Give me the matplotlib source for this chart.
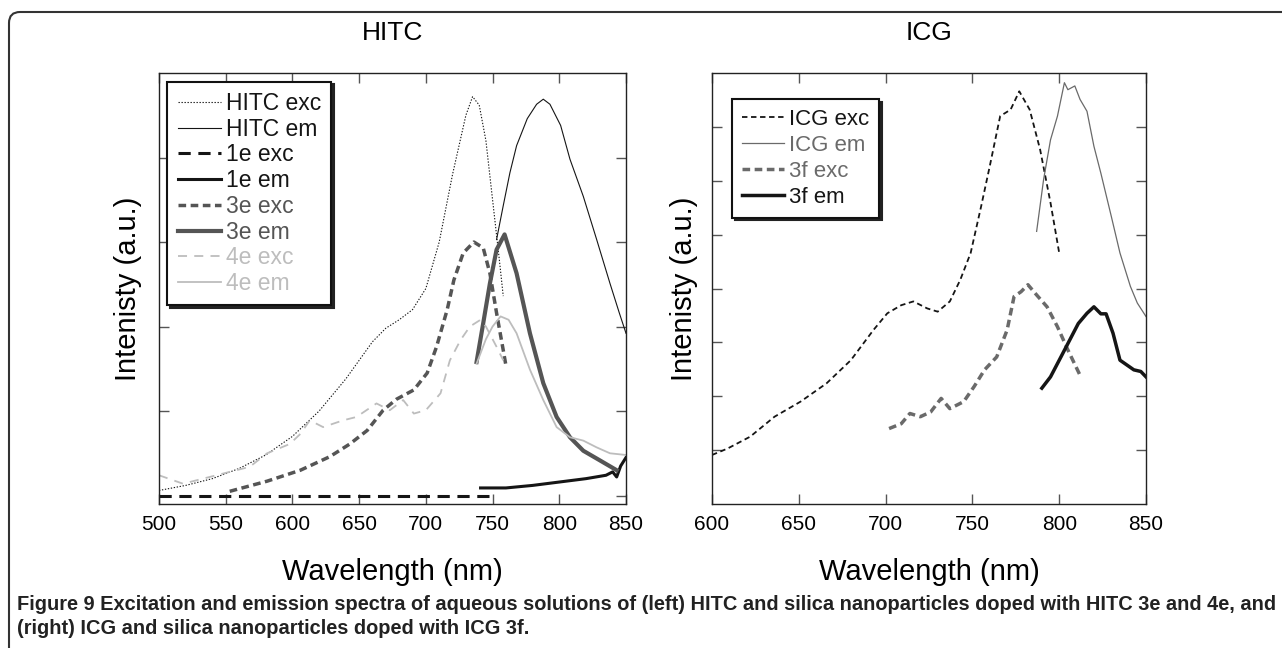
import matplotlib
matplotlib.use("Agg")
import matplotlib.pyplot as plt
from matplotlib.patches import FancyBboxPatch
from matplotlib.transforms import IdentityTransform

plt.rcParams['font.family'] = ['Liberation Sans', 'DejaVu Sans']

# ---- left panel (HITC) ----
hitc_exc_x = [500, 520, 540, 560, 580, 600, 620, 640, 660, 670, 680, 690, 700, 710, 720, 730, 735, 740, 745, 750, 755, 758]
hitc_exc_y = [0.06, 0.12, 0.2, 0.32, 0.48, 0.7, 1.0, 1.38, 1.82, 1.98, 2.08, 2.2, 2.45, 3.0, 3.8, 4.5, 4.72, 4.62, 4.2, 3.5, 2.8, 2.36]

hitc_em_x = [753, 758, 763, 768, 776, 783, 788, 793, 801, 808, 818, 828, 838, 845, 850]
hitc_em_y = [3.03, 3.43, 3.82, 4.14, 4.46, 4.63, 4.69, 4.63, 4.38, 3.98, 3.54, 3.03, 2.51, 2.16, 1.92]

e1_exc_x = [500, 750]
e1_exc_y = [0.0, 0.0]

e1_em_x = [741, 760, 780, 800, 820, 835, 840, 843, 846, 850]
e1_em_y = [0.09, 0.09, 0.12, 0.16, 0.2, 0.24, 0.28, 0.22, 0.35, 0.45]

e3_exc_x = [553, 581, 606, 628, 643, 656, 668, 678, 691, 701, 708, 716, 721, 728, 736, 743, 748, 753, 758, 760]
e3_exc_y = [0.05, 0.17, 0.3, 0.46, 0.61, 0.77, 1.01, 1.14, 1.25, 1.45, 1.76, 2.2, 2.55, 2.87, 3.0, 2.93, 2.63, 2.16, 1.72, 1.54]

e3_em_x = [738, 743, 748, 753, 759, 768, 778, 788, 798, 808, 818, 830, 843]
e3_em_y = [1.58, 2.04, 2.51, 2.91, 3.09, 2.63, 1.92, 1.33, 0.93, 0.69, 0.53, 0.42, 0.3]

e4_exc_x = [500, 518, 543, 568, 581, 598, 606, 613, 623, 638, 648, 663, 673, 683, 691, 700, 711, 718, 726, 733, 741, 745, 753, 758]
e4_exc_y = [0.24, 0.14, 0.24, 0.34, 0.5, 0.61, 0.73, 0.89, 0.81, 0.89, 0.93, 1.09, 1.01, 1.13, 0.97, 1.01, 1.21, 1.6, 1.84, 2.0, 2.08, 2.0, 1.76, 1.6]

e4_em_x = [738, 745, 750, 756, 762, 768, 778, 788, 798, 808, 818, 828, 838, 850]
e4_em_y = [1.56, 1.85, 2.0, 2.12, 2.08, 1.92, 1.49, 1.13, 0.81, 0.69, 0.65, 0.57, 0.5, 0.48]

# ---- right panel (ICG) ----
icg_exc_x = [600, 609, 622, 636, 651, 666, 680, 693, 701, 709, 716, 724, 730, 737, 743, 749, 755, 760, 766, 772, 777, 783, 789, 795, 800]
icg_exc_y = [0.91, 1.03, 1.25, 1.62, 1.9, 2.24, 2.67, 3.23, 3.54, 3.69, 3.76, 3.63, 3.57, 3.76, 4.16, 4.66, 5.52, 6.27, 7.2, 7.32, 7.66, 7.32, 6.58, 5.59, 4.66]

icg_em_x = [787, 791, 795, 799, 803, 805, 809, 812, 816, 820, 824, 830, 835, 841, 845, 850]
icg_em_y = [5.06, 6.02, 6.76, 7.2, 7.82, 7.69, 7.76, 7.51, 7.29, 6.64, 6.14, 5.34, 4.66, 4.04, 3.73, 3.48]

f3_exc_x = [702, 709, 714, 720, 726, 732, 737, 745, 751, 757, 764, 770, 774, 778, 782, 787, 793, 799, 805, 812]
f3_exc_y = [1.4, 1.49, 1.68, 1.62, 1.71, 1.96, 1.77, 1.9, 2.18, 2.49, 2.73, 3.23, 3.85, 3.94, 4.07, 3.88, 3.66, 3.29, 2.86, 2.39]

f3_em_x = [790, 795, 801, 806, 811, 816, 820, 824, 827, 831, 835, 839, 843, 847, 850]
f3_em_y = [2.15, 2.36, 2.73, 3.04, 3.35, 3.54, 3.66, 3.53, 3.53, 3.17, 2.67, 2.58, 2.49, 2.46, 2.36]

caption_1 = "Figure 9 Excitation and emission spectra of aqueous solutions of (left) HITC and silica nanoparticles doped with HITC 3e and 4e, and"
caption_2 = "(right) ICG and silica nanoparticles doped with ICG 3f."

BLACK = '#151515'
DARK = '#555555'
LIGHT = '#bdbdbd'
MID = '#6a6a6a'


def style_axes(ax):
    ax.tick_params(direction='in', top=True, right=True, length=7, width=1,
                   color='#555555', labelsize=15, labelleft=False, pad=8)
    for sp in ax.spines.values():
        sp.set_linewidth(1.0)
        sp.set_color('#222222')


def add_legend(ax, anchor, colors, size, spacing):
    leg = ax.legend(loc='upper left', bbox_to_anchor=anchor, fontsize=size,
                    frameon=True, fancybox=False, shadow={'color': '#222222', 'alpha': 1},
                    handlelength=1.9, handletextpad=0.2, labelspacing=spacing,
                    borderpad=0.45, borderaxespad=0)
    leg.get_frame().set_edgecolor('#111111')
    leg.get_frame().set_linewidth(1.5)
    for txt, c in zip(leg.get_texts(), colors):
        txt.set_color(c)
    return leg


fig = plt.figure(figsize=(12.82, 6.48), dpi=100)

# left panel
ax1 = fig.add_axes([159 / 1282, 1 - 504 / 648, 467 / 1282, 431 / 648])
ax1.plot(hitc_exc_x, hitc_exc_y, color=BLACK, lw=0.8, ls=(0, (1.2, 1.5)), label='HITC exc')
ax1.plot(hitc_em_x, hitc_em_y, color=BLACK, lw=0.8, label='HITC em')
ax1.plot(e1_exc_x, e1_exc_y, color=BLACK, lw=2.2, ls=(0, (4, 2.5)), label='1e exc')
ax1.plot(e1_em_x, e1_em_y, color=BLACK, lw=2.2, label='1e em')
ax1.plot(e3_exc_x, e3_exc_y, color=DARK, lw=2.5, ls=(0, (2.2, 1.3)), label='3e exc')
ax1.plot(e3_em_x, e3_em_y, color=DARK, lw=3.0, label='3e em')
ax1.plot(e4_exc_x, e4_exc_y, color=LIGHT, lw=1.3, ls=(0, (5, 4)), label='4e exc')
ax1.plot(e4_em_x, e4_em_y, color=LIGHT, lw=1.3, label='4e em')
ax1.set_xlim(500, 850)
ax1.set_ylim(-0.1, 5)
ax1.set_xticks(range(500, 851, 50))
ax1.set_yticks(range(0, 5))
style_axes(ax1)
ax1.set_title('HITC', fontsize=19, pad=24)
ax1.set_xlabel('Wavelength (nm)', fontsize=21, labelpad=17)
ax1.set_ylabel('Intenisty (a.u.)', fontsize=21, labelpad=12)
add_legend(ax1, (0.018, 0.98), [BLACK] * 4 + [DARK] * 2 + [LIGHT] * 2, 16.5, 0.12)

# right panel
ax2 = fig.add_axes([712 / 1282, 1 - 504 / 648, 434 / 1282, 431 / 648])
ax2.plot(icg_exc_x, icg_exc_y, color=BLACK, lw=1.3, ls=(0, (3, 2)), label='ICG exc')
ax2.plot(icg_em_x, icg_em_y, color=MID, lw=0.9, label='ICG em')
ax2.plot(f3_exc_x, f3_exc_y, color=MID, lw=2.5, ls=(0, (2.2, 1.3)), label='3f exc')
ax2.plot(f3_em_x, f3_em_y, color=BLACK, lw=2.5, label='3f em')
ax2.set_xlim(600, 850)
ax2.set_ylim(0, 8)
ax2.set_xticks(range(600, 851, 50))
ax2.set_yticks(range(1, 8))
style_axes(ax2)
ax2.set_title('ICG', fontsize=19, pad=24)
ax2.set_xlabel('Wavelength (nm)', fontsize=21, labelpad=17)
ax2.set_ylabel('Intenisty (a.u.)', fontsize=21, labelpad=10)
add_legend(ax2, (0.046, 0.94), [BLACK, MID, MID, BLACK], 16, 0.22)

# rounded frame round the whole figure (open to the right and bottom)
frame = FancyBboxPatch((9, -30), 1320, 666, boxstyle='round,pad=0,rounding_size=11',
                       transform=IdentityTransform(), fill=False, lw=1.5, ec='#333333')
fig.add_artist(frame)

# caption; shrink the font until the first line fits the frame width
cap1 = fig.text(17 / 1282, 1 - 605 / 648, caption_1, weight='bold',
                fontsize=13, color='#222222', va='center', ha='left')
cap2 = fig.text(17 / 1282, 1 - 628 / 648, caption_2, weight='bold',
                fontsize=13, color='#222222', va='center', ha='left')
renderer = fig.canvas.get_renderer()
w = cap1.get_window_extent(renderer).width
size = 13 * 1256 / w
cap1.set_fontsize(size)
cap2.set_fontsize(size)

fig.savefig('out.png', dpi=100)
